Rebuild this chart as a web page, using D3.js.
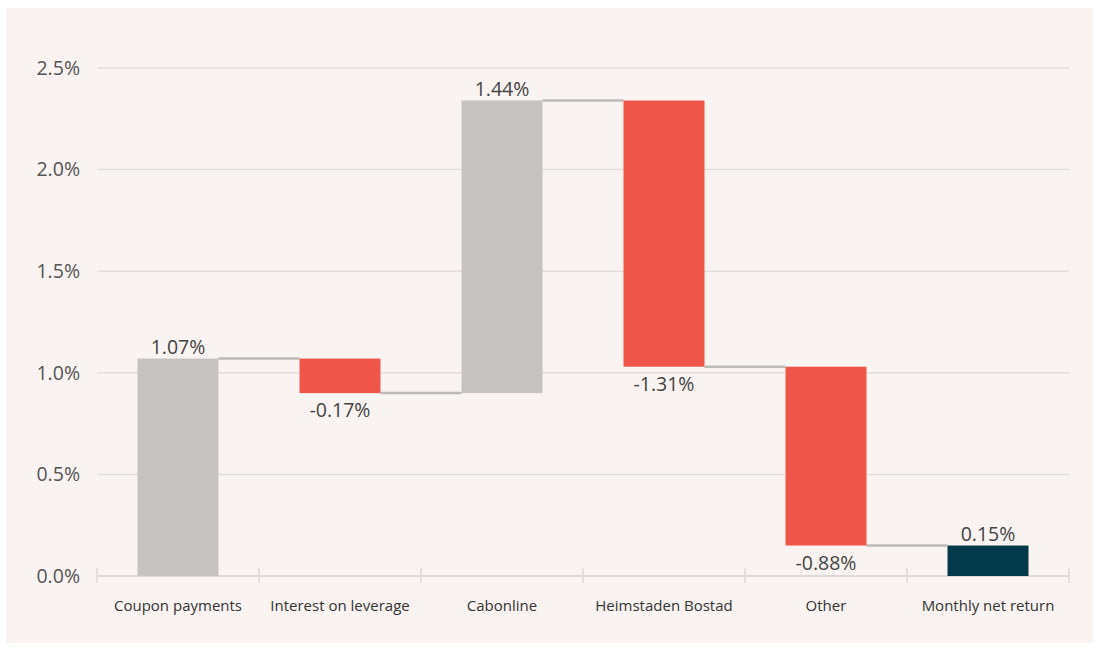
<!DOCTYPE html>
<html>
<head>
<meta charset="utf-8">
<script src="https://cdn.jsdelivr.net/npm/d3@7"></script>
<style>
  html, body { margin: 0; padding: 0; background: #ffffff; }
  svg { display: block; font-family: "Open Sans", "Noto Sans", sans-serif; }
</style>
</head>
<body>
<svg id="chart" width="1099" height="649"></svg>
<script>
const categories = ["Coupon payments", "Interest on leverage", "Cabonline", "Heimstaden Bostad", "Other", "Monthly net return"];
const changes = [1.07, -0.17, 1.44, -1.31, -0.88];
const totalValue = 0.15;
const yTicks = [0, 0.5, 1.0, 1.5, 2.0, 2.5];

const svg = d3.select("#chart");

svg.append("rect").attr("x", 6).attr("y", 8).attr("width", 1087).attr("height", 635).attr("fill", "#f9f4f1");

const x = d3.scaleBand().domain(categories).range([97, 1069]).paddingInner(0.5).paddingOuter(0.25);
const y = d3.scaleLinear().domain([0, 2.5]).range([576, 68]);

const fmtPct = v => (v < 0 ? "-" : "") + d3.format(".2f")(Math.abs(v)) + "%";

// build waterfall data
let cum = 0;
const bars = changes.map((v, i) => {
  const start = cum; cum += v;
  return { cat: categories[i], start, end: cum, value: v, type: v >= 0 ? "pos" : "neg" };
});
bars.push({ cat: categories[5], start: 0, end: totalValue, value: totalValue, type: "total" });

// gridlines
svg.append("g").selectAll("line").data(yTicks.filter(d => d > 0)).join("line")
  .attr("x1", 97).attr("x2", 1069)
  .attr("y1", d => y(d)).attr("y2", d => y(d))
  .attr("stroke", "#e2dedb").attr("stroke-width", 1.5);

// y labels
const yAxis = d3.axisLeft(y).tickValues(yTicks).tickFormat(d => d3.format(".1f")(d) + "%").tickSize(0).tickPadding(17);
const gy = svg.append("g").attr("transform", "translate(97,0)").call(yAxis);
gy.select(".domain").remove();
gy.selectAll("text").attr("font-size", 19.5).attr("fill", "#555").attr("font-family", "'Open Sans', sans-serif");

// x axis line and ticks
const tickXs = d3.range(categories.length + 1).map(i => 97 + i * (972 / categories.length));
svg.append("line").attr("x1", 97).attr("x2", 1069).attr("y1", y(0)).attr("y2", y(0))
  .attr("stroke", "#dedad7").attr("stroke-width", 2);
svg.append("g").selectAll("line").data(tickXs).join("line")
  .attr("x1", d => d).attr("x2", d => d).attr("y1", y(0) - 8).attr("y2", y(0) + 7)
  .attr("stroke", "#dedad7").attr("stroke-width", 1.5);

const xAxis = d3.axisBottom(x).tickSize(0).tickPadding(24);
const gx = svg.append("g").attr("transform", `translate(0,${y(0)})`).call(xAxis);
gx.select(".domain").remove();
gx.selectAll("text").attr("font-size", 15).attr("fill", "#333").attr("font-family", "'Open Sans', sans-serif");

// connectors
const conn = [];
for (let i = 0; i < bars.length - 1; i++) {
  conn.push({ x1: x(bars[i].cat) + x.bandwidth(), x2: x(bars[i + 1].cat), v: bars[i].end });
}
svg.append("g").selectAll("line").data(conn).join("line")
  .attr("x1", d => d.x1).attr("x2", d => d.x2)
  .attr("y1", d => y(d.v)).attr("y2", d => y(d.v))
  .attr("stroke", "#bdbab8").attr("stroke-width", 2.5);

const color = { pos: "#c6c2c0", neg: "#ef5649", total: "#033a4a" };
svg.append("g").selectAll("rect").data(bars).join("rect")
  .attr("x", d => x(d.cat)).attr("width", x.bandwidth())
  .attr("y", d => y(Math.max(d.start, d.end)))
  .attr("height", d => Math.abs(y(d.start) - y(d.end)))
  .attr("fill", d => color[d.type]);

// value labels
svg.append("g").selectAll("text").data(bars).join("text")
  .attr("x", d => x(d.cat) + x.bandwidth() / 2)
  .attr("y", d => d.value >= 0 ? y(d.end) - 5 : y(d.end) + 24)
  .attr("text-anchor", "middle")
  .attr("font-size", 19.5).attr("fill", "#444")
  .text(d => fmtPct(d.value));
</script>
</body>
</html>
